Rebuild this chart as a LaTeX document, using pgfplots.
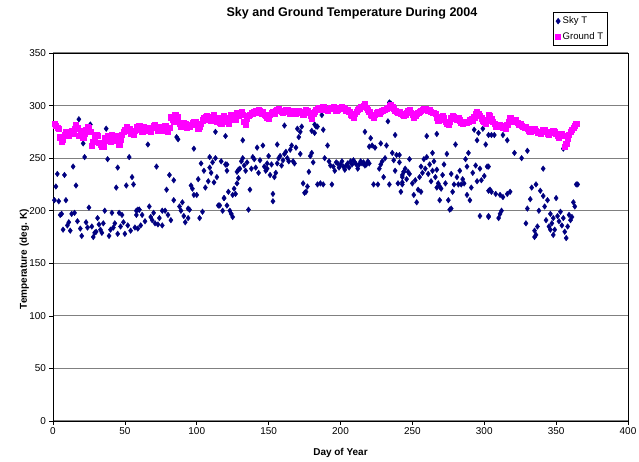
\documentclass[border=0pt]{standalone}
\usepackage{pgfplots}
\pgfplotsset{compat=1.18}
\usepackage{fontspec}
\setmainfont{Liberation Sans}
\definecolor{skyc}{RGB}{0,0,128}
\definecolor{grdc}{RGB}{255,0,255}
\definecolor{gridc}{RGB}{128,128,128}
\begin{document}
\begin{tikzpicture}
\path[use as bounding box] (-53bp,-41bp) rectangle (586bp,421bp);
\begin{axis}[
  scale only axis, width=575bp, height=368bp,
  xmin=0, xmax=400, ymin=0, ymax=350,
  xtick={0,50,...,400}, ytick={0,50,...,350},
  ymajorgrids, major grid style={gridc, line width=1.2pt},
  axis line style={black, line width=0.6pt},
  tick align=outside, major tick length=3.5bp,
  tick style={black, line width=0.6pt},
  xtick pos=bottom, ytick pos=left,
  /pgf/number format/assume math mode=true,
  tick label style={font=\fontsize{10}{11}\selectfont},
  title={Sky and Ground Temperature During 2004},
  title style={at={(0.52,1.092)}, anchor=center, font=\fontsize{12.6}{14}\selectfont\bfseries},
  xlabel={Day of Year},
  xlabel style={at={(0.5,-0.087)}, anchor=center, font=\fontsize{10}{11}\selectfont\bfseries},
  ylabel={Temperature (deg. K)},
  ylabel style={at={(-0.05,0.44)}, anchor=center, font=\fontsize{10}{11}\selectfont\bfseries},
  legend style={at={(0.87,1.111)}, anchor=north west, draw=black, line width=0.6pt,
    font=\fontsize{9.6}{10}\selectfont, inner xsep=2pt, inner ysep=2.5pt, row sep=3pt, cells={anchor=west}},
  legend image code/.code={\draw[#1] (0.12cm,0cm) -- plot coordinates {(0.12cm,0cm)};},
]
% Sky T
\addplot[only marks, mark=diamond*, mark size=2.8bp, color=skyc, mark options={fill=skyc, draw=skyc}] coordinates {
(18,287)(26,282)(37,278)(21,264)(22,251)(38,249)(53,251)(14,242)(45,241)(3,235)
(8,234)(55,232)(2,223)(16,224)(44,222)(51,224)(56,225)(4,209)(9,210)(25,203)
(6,197)(13,197)(15,198)(46,198)(48,196)(59,201)(11,189)(10,186)(7,182)(23,189)
(24,184)(31,193)(32,187)(43,188)(42,184)(40,182)(52,186)(57,184)(20,176)(29,179)
(30,180)(28,175)(34,179)(39,176)(45,178)(49,189)
(1,210)(5,196)(12,181)(17,190)(19,183)(27,185)(33,182)(35,188)(36,200)(41,198)(47,185)(50,178)(54,181)(58,196)(60,201)
(66,263)(86,270)(87,268)(98,259)(113,275)(109,251)(113,250)(117,247)(120,244)(72,242)
(103,245)(109,241)(81,234)(84,229)(108,228)(112,227)(79,220)(97,221)(98,215)(100,215)
(84,210)(90,208)(119,212)(67,204)(94,202)(95,201)(60,201)(58,200)(76,200)(78,200)
(89,200)(104,199)(116,205)(118,200)(62,196)(68,194)(69,191)(71,188)(73,187)(76,186)
(82,191)(92,189)(94,193)(102,193)(59,183)(61,186)
(64,190)(70,198)(74,193)(80,196)(88,204)(91,195)(96,224)(101,230)(105,238)(106,222)(110,236)(111,246)(114,232)(115,205)(121,238)
(120,271)(132,267)(146,262)(156,263)(161,281)(170,278)(173,280)(172,275)(182,282)(182,274)
(121,244)(132,250)(140,249)(129,239)(128,237)(130,240)(138,240)(141,241)(149,245)(149,240)
(151,234)(156,245)(158,252)(161,254)(163,250)(165,258)(169,260)(172,254)(179,252)(168,245)
(167,247)(159,243)(155,236)(154,232)(178,237)(177,223)(175,217)(176,218)(129,231)(128,226)
(126,221)(127,216)(125,215)(119,212)(121,205)(124,197)(125,194)(137,220)(153,216)(153,209)
(136,201)
(122,218)(123,200)(131,247)(133,243)(134,238)(135,246)(139,251)(142,260)(143,236)(144,248)(147,242)(148,238)
(150,252)(152,244)(157,250)(160,248)(162,256)(164,247)(166,262)(171,270)(174,226)(180,255)(181,246)(183,280)
(184,280)(187,291)(188,277)(180,276)(191,262)(217,275)(221,269)(220,261)(222,262)(228,264)
(232,262)(235,302)(234,303)(238,272)(236,255)(239,253)(192,247)(195,242)(196,238)(198,245)
(200,244)(202,242)(203,239)(205,245)(207,247)(208,244)(210,246)(213,244)(215,245)(217,243)
(220,245)(228,244)(229,247)(184,225)(188,225)(194,225)(223,225)(226,225)(230,232)(234,225)
(238,238)(242,218)(243,232)(243,225)
(186,226)(189,250)(193,243)(197,246)(199,241)(201,247)(204,243)(206,241)(209,248)(211,244)(212,240)(214,247)
(216,246)(218,244)(219,247)(224,260)(227,240)(231,250)(233,285)(237,248)(240,226)(241,246)(244,237)
(260,271)(267,273)(280,263)(293,277)(295,267)(299,278)(301,263)(303,272)(289,255)(274,254)
(264,255)(260,251)(258,249)(248,249)(241,253)(245,240)(244,237)(247,237)(248,235)(243,234)
(256,242)(257,236)(262,244)(264,238)(267,239)(272,244)(271,234)(277,235)(281,232)(288,242)
(297,240)(302,242)(243,227)(252,229)(254,220)(251,215)(253,208)(256,218)(263,228)(267,222)
(269,223)(270,221)(273,226)(278,218)(279,225)(282,225)(284,225)(286,226)(291,222)(288,215)
(290,210)(295,228)(298,229)(304,220)(269,210)(276,201)(277,202)(297,195)(303,195)
(246,230)(250,226)(255,232)(259,240)(261,235)(265,247)(266,232)(268,226)(275,210)(283,238)(285,230)(287,249)
(292,236)(294,243)(296,274)(300,233)
(305,272)(307,272)(313,272)(316,267)(321,255)(330,257)(355,259)(341,240)(303,242)(336,225)
(339,219)(341,214)(344,210)(332,211)(330,202)(350,212)(362,208)(363,204)(364,225)(365,225)
(303,219)(305,218)(308,216)(311,215)(313,213)(316,216)(318,218)(312,200)(311,197)(310,193)
(303,194)(329,188)(335,181)(337,185)(346,197)(348,193)(351,195)(352,190)(355,193)(354,186)
(358,185)(360,191)(361,194)(343,191)(345,185)(346,182)(349,182)(348,177)(357,174)(336,177)
(335,175)
(326,250)(333,222)(338,200)(342,204)(347,188)(353,199)(356,180)(359,196)
};
\addlegendentry{Sky T}
% Ground T
\addplot[only marks, mark=square*, mark size=2.6bp, color=grdc, mark options={fill=grdc, draw=grdc}] coordinates {
(1,283)(2,281)(3,279)(4,278)(5,270)(6,266)(7,268)(8,272)(9,275)(10,274)
(11,271)(12,275)(13,276)(14,273)(15,278)(16,282)(17,279)(18,271)(19,274)(20,276)
(21,270)(22,273)(23,277)(24,280)(25,279)(26,275)(27,262)(28,266)(29,270)(30,272)
(31,271)(32,265)(33,263)(34,261)(35,261)(36,269)(37,267)(38,271)(39,268)(40,266)
(41,272)(42,270)(43,267)(44,271)(45,269)(46,263)(47,268)(48,272)(49,275)(50,277)
(51,280)(52,276)(53,278)(54,273)(55,275)(56,272)(57,276)(58,280)(59,279)(60,281)
(61,277)(62,275)(63,280)(64,278)(65,276)(66,279)(67,278)(68,275)(69,279)(70,281)
(71,282)(72,279)(73,276)(74,277)(75,280)(76,276)(77,278)(78,281)(79,277)(80,275)
(81,279)(82,289)(83,287)(84,285)(85,291)(86,286)(87,289)(88,283)(89,280)(90,281)
(91,284)(92,283)(93,279)(94,281)(95,280)(96,282)(97,284)(98,285)(99,285)(100,282)
(101,278)(102,280)(103,283)(104,286)(105,288)(106,289)(107,290)(108,287)(109,288)(110,286)
(111,289)(112,291)(113,288)(114,285)(115,288)(116,284)(117,283)(118,287)(119,290)(120,288)
(121,285)(122,283)(123,287)(124,291)(125,289)(126,290)(127,287)(128,293)(129,290)(130,292)
(131,294)(132,291)(133,285)(134,282)(135,288)(136,290)(137,291)(138,293)(139,292)(140,294)
(141,295)(142,293)(143,296)(144,295)(145,292)(146,294)(147,291)(148,290)(149,289)(150,288)
(151,291)(152,293)(153,294)(154,292)(155,295)(156,296)(157,297)(158,295)(159,294)(160,293)
(161,295)(162,296)(163,296)(164,294)(165,292)(166,293)(167,295)(168,294)(169,292)(170,294)
(171,295)(172,293)(173,293)(174,291)(175,294)(176,296)(177,295)(178,293)(179,290)(180,288)
(181,292)(182,294)(183,296)(184,297)(185,298)(186,296)(187,297)(188,299)(189,297)(190,296)
(191,295)(192,297)(193,298)(194,297)(195,299)(196,297)(197,295)(198,296)(199,298)(200,297)
(201,299)(202,298)(203,297)(204,295)(205,296)(206,294)(207,291)(208,290)(209,289)(210,292)
(211,294)(212,296)(213,297)(214,299)(215,299)(216,300)(217,302)(218,298)(219,296)(220,294)
(221,291)(222,290)(223,289)(224,291)(225,293)(226,294)(227,292)(228,294)(229,295)(230,296)
(231,296)(232,297)(233,298)(234,300)(235,301)(236,299)(237,297)(238,295)(239,294)(240,293)
(241,294)(242,292)(243,291)(244,290)(245,291)(246,293)(247,295)(248,296)(249,293)(250,291)
(251,289)(252,290)(253,292)(254,293)(255,294)(256,295)(257,296)(258,297)(259,297)(260,296)
(261,295)(262,296)(263,294)(264,293)(265,293)(266,292)(267,289)(268,286)(269,287)(270,288)
(271,290)(272,288)(273,285)(274,283)(275,282)(276,285)(277,288)(278,290)(279,289)(280,288)
(281,287)(282,288)(283,286)(284,284)(285,283)(286,284)(287,285)(288,284)(289,285)(290,286)
(291,287)(292,286)(293,289)(294,292)(295,294)(296,292)(297,290)(298,288)(299,286)(300,285)
(301,283)(302,286)(303,291)(304,290)(305,287)(306,285)(307,283)(308,280)(309,281)(310,280)
(311,282)(312,281)(313,279)(314,280)(315,278)(316,282)(317,285)(318,288)(319,286)(320,285)
(321,286)(322,286)(323,284)(324,282)(325,283)(326,281)(327,280)(328,279)(329,280)(330,278)
(331,276)(332,275)(333,277)(334,278)(335,278)(336,276)(337,274)(338,274)(339,273)(340,275)
(341,277)(342,277)(343,275)(344,273)(345,272)(346,274)(347,275)(348,276)(349,275)(350,273)
(351,271)(352,270)(353,272)(354,273)(355,271)(356,261)(357,264)(358,269)(359,272)(360,275)
(361,277)(362,279)(363,281)(364,283)
};
\addlegendentry{Ground T}
\end{axis}
\end{tikzpicture}
\end{document}
